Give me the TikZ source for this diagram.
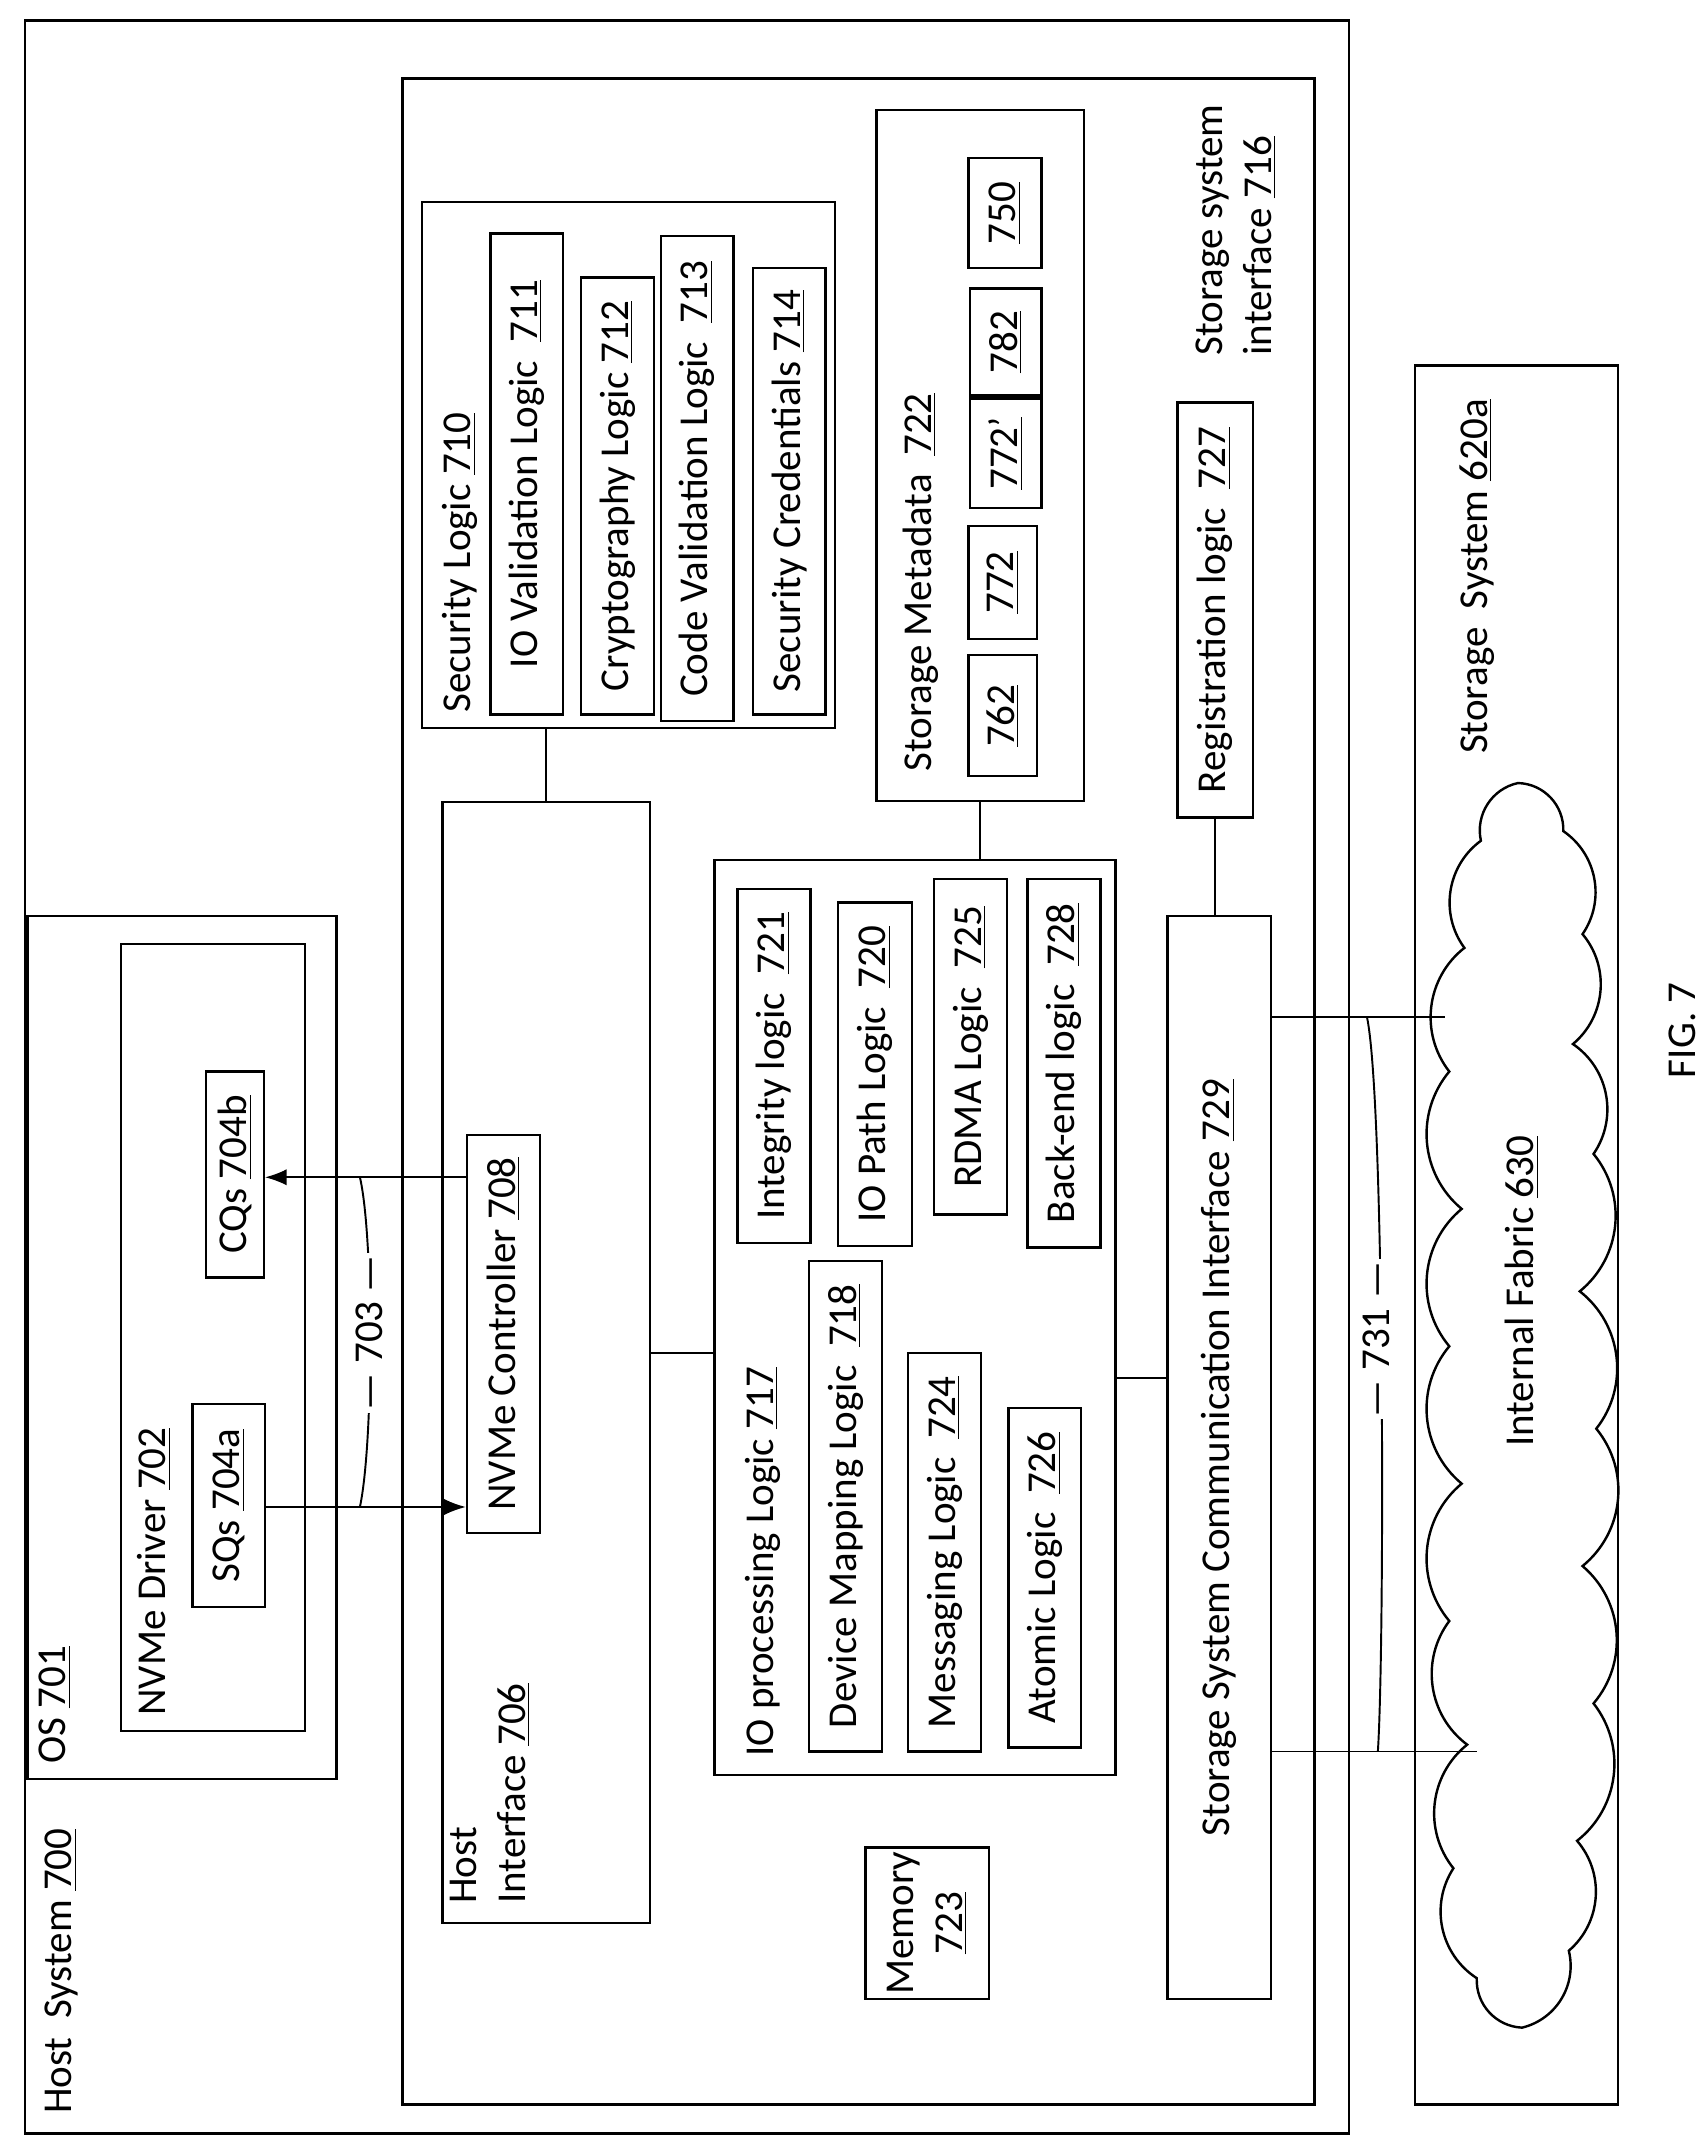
\documentclass[tikz,border=0pt]{standalone}
\usepackage{fontspec}
\setmainfont{Carlito}
\usetikzlibrary{fit,arrows.meta}
\tikzset{
  blk/.style={draw, line width=1pt, inner sep=0pt},
  lbl/.style={rotate=90, font=\fontsize{17}{20}\selectfont, align=left},
  wire/.style={line width=0.8pt},
}
\newcommand{\bx}[5]{\node[blk, fit={(#2,#3)(#4,#5)}] (#1) {};}
\begin{document}
\begin{tikzpicture}[x=0.02cm,y=-0.02cm]
\useasboundingbox (0,0) rectangle (1240,1568);
% outer boxes
\bx{host}{18}{15}{982}{1553}
\node[lbl, anchor=west] at (45,1545) {Host \ System \underline{700}};
\bx{os}{20}{667}{245}{1295}
\node[lbl, anchor=west] at (40,1290) {OS \underline{701}};
\bx{drv}{88}{687}{222}{1260}
\node[lbl, anchor=west] at (112,1255) {NVMe Driver \underline{702}};
\bx{cq}{150}{780}{192}{930}
\node[lbl] at (cq.center) {CQs \underline{704b}};
\bx{sq}{140}{1022}{193}{1170}
\node[lbl] at (sq.center) {SQs \underline{704a}};
\bx{inner}{293}{57}{957}{1532}
% security logic
\bx{sec}{307}{147}{608}{530}
\node[lbl, anchor=west] at (335,525) {Security Logic \underline{710}};
\bx{iov}{357}{170}{410}{520}
\node[lbl] at (iov.center) {IO Validation Logic \ \underline{711}};
\bx{cry}{423}{202}{476}{520}
\node[lbl] at (cry.center) {Cryptography Logic \underline{712}};
\bx{cvl}{481}{172}{534}{525}
\node[lbl] at (cvl.center) {Code Validation Logic \ \underline{713}};
\bx{scr}{548}{195}{601}{520}
\node[lbl] at (scr.center) {Security Credentials \underline{714}};
% storage metadata
\bx{meta}{638}{80}{789}{583}
\node[lbl, anchor=west] at (670,568) {Storage Metadata \ \underline{722}};
\bx{m762}{705}{477}{755}{565}
\node[lbl] at (m762.center) {\underline{762}};
\bx{m772}{705}{383}{755}{465}
\node[lbl] at (m772.center) {\underline{772}};
\bx{m772p}{706}{290}{758}{370}
\node[lbl] at (m772p.center) {\underline{772'}};
\bx{m782}{706}{210}{758}{288}
\node[lbl] at (m782.center) {\underline{782}};
\bx{m750}{705}{115}{758}{195}
\node[lbl] at (m750.center) {\underline{750}};
\node[lbl, anchor=west] at (900,265) {Storage system\\interface \underline{716}};
\bx{reg}{857}{293}{912}{595}
\node[lbl] at (reg.center) {Registration logic \ \underline{727}};
% host interface
\bx{hif}{322}{584}{473}{1400}
\node[lbl, anchor=west] at (357,1392) {Host\\Interface \underline{706}};
\bx{nvc}{340}{826}{393}{1116}
\node[lbl] at (nvc.center) {NVMe Controller \underline{708}};
% io processing
\bx{iop}{520}{626}{812}{1292}
\node[lbl, anchor=west] at (555,1285) {IO processing Logic \underline{717}};
\bx{int}{537}{647}{590}{905}
\node[lbl] at (int.center) {Integrity logic \ \underline{721}};
\bx{iopath}{610}{657}{664}{907}
\node[lbl] at (iopath.center) {IO Path Logic \ \underline{720}};
\bx{rdma}{680}{640}{733}{884}
\node[lbl] at (rdma.center) {RDMA Logic \ \underline{725}};
\bx{back}{748}{640}{801}{908}
\node[lbl] at (back.center) {Back-end logic \ \underline{728}};
\bx{dev}{589}{918}{642}{1275}
\node[lbl] at (dev.center) {Device Mapping Logic \ \underline{718}};
\bx{msg}{661}{985}{714}{1275}
\node[lbl] at (msg.center) {Messaging Logic \ \underline{724}};
\bx{atm}{734}{1025}{787}{1272}
\node[lbl] at (atm.center) {Atomic Logic \ \underline{726}};
\bx{mem}{630}{1345}{720}{1455}
\node[lbl, align=center] at (mem.center) {Memory\\\underline{723}};
\bx{ssci}{850}{667}{925}{1455}
\node[lbl] at (ssci.center) {Storage System Communication Interface \underline{729}};
% storage system
\bx{sys}{1030}{266}{1178}{1532}
\node[lbl, anchor=west] at (1075,555) {Storage \ System \underline{620a}};
% cloud
\draw[line width=1pt] (1105,570)
  foreach \x/\y in {1138/605,1152/680,1145/760,1160/840,1150/940,1162/1040,
    1152/1140,1160/1240,1148/1340,1142/1420,1108/1476,1075/1440,1058/1360,
    1068/1270,1055/1180,1064/1080,1055/980,1064/880,1055/780,1066/690,1078/612}
  { to[bend left=45] (\x,\y) } to[bend left=45] cycle;
\node[lbl] at (1108,940) {Internal Fabric \underline{630}};
\node[lbl] at (1225,750) {FIG. 7};
% connectors
\draw[wire] (hif.north |- sec.south) -- (hif.north);
\draw[wire] (meta.south) -- (meta.south |- iop.north);
\draw[wire] (reg.south) -- (reg.south |- ssci.north);
\draw[wire] (hif.east |- 0,985) -- (iop.west |- 0,985);
\draw[wire] (iop.east |- 0,1003) -- (ssci.west |- 0,1003);
\coordinate (f1) at (1052,740);
\coordinate (f2) at (1075,1275);
\draw[wire] (ssci.east |- f1) -- (f1);
\draw[wire] (ssci.east |- f2) -- (f2);
\draw[wire] (995,740) .. controls (1008,800) and (1008,1200) .. (1003,1275);
\node[lbl, fill=white, inner sep=1pt] at (1002,975) {— 731 —};
\draw[wire, -{Latex[length=9pt]}] (nvc.west |- 0,857) -- (cq.east |- 0,857);
\draw[wire, -{Latex[length=9pt]}] (sq.east |- 0,1097) -- (nvc.west |- 0,1097);
\draw[wire] (262,857) .. controls (272,900) and (272,1050) .. (262,1097);
\node[lbl, fill=white, inner sep=1pt] at (269,970) {— 703 —};
\end{tikzpicture}
\end{document}
